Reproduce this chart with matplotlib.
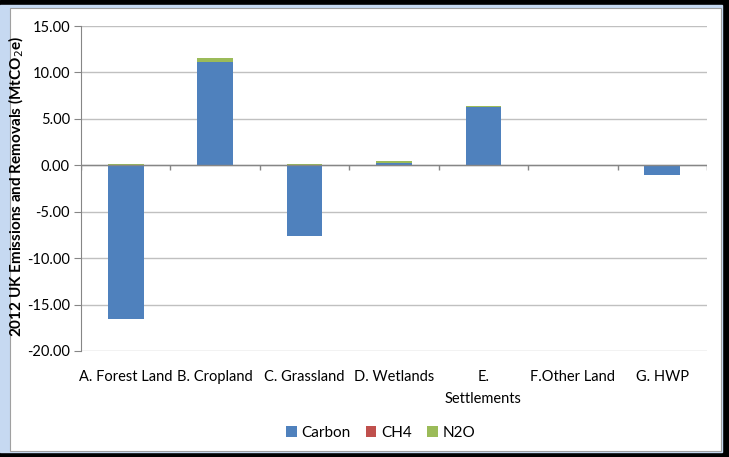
import matplotlib
matplotlib.use("Agg")
import matplotlib.pyplot as plt
from matplotlib.patches import Rectangle
import numpy as np

categories = ["A. Forest Land", "B. Cropland", "C. Grassland", "D. Wetlands",
              "E.\nSettlements", "F.Other Land", "G. HWP"]
carbon = [-16.60, 11.07, -7.61, 0.28, 6.25, 0.00, -1.07]
ch4 = [0.01, 0.00, 0.01, 0.01, 0.00, 0.00, 0.00]
n2o = [0.15, 0.53, 0.15, 0.14, 0.14, 0.00, 0.00]
series = [("Carbon", carbon, "#4F81BD"), ("CH4", ch4, "#C0504D"), ("N2O", n2o, "#9BBB59")]
yticks = [15, 10, 5, 0, -5, -10, -15, -20]

plt.rcParams['font.family'] = ['Lato', 'DejaVu Sans']

fig = plt.figure(figsize=(7.29, 4.57), dpi=100)
W, H = 729, 457
# frame decorations
fig.patches.append(Rectangle((0, 0), 1, 1, transform=fig.transFigure, color="black", zorder=-10))
fig.patches.append(Rectangle((0, 5 / H), 722 / W, 1 - 10 / H, transform=fig.transFigure,
                             color="#C6D9F1", zorder=-9))
fig.patches.append(Rectangle((10 / W, 6 / H), 711 / W, 1 - 14 / H, transform=fig.transFigure,
                             facecolor="white", edgecolor="#A0A0A0", lw=0.8, zorder=-8))

ax = fig.add_axes([81 / W, 1 - 351 / H, (707 - 81) / W, (351 - 26) / H])
ax.set_facecolor("none")
x = np.arange(len(categories))
pos_bottom = np.zeros(len(categories))
neg_bottom = np.zeros(len(categories))
for name, vals, col in series:
    v = np.array(vals, dtype=float)
    b = np.where(v >= 0, pos_bottom, neg_bottom)
    ax.bar(x, v, bottom=b, width=0.4, color=col, label=name, zorder=3)
    pos_bottom += np.where(v >= 0, v, 0)
    neg_bottom += np.where(v < 0, v, 0)

ax.set_xlim(-0.5, len(categories) - 0.5)
ax.set_ylim(-20, 15)
ax.set_yticks(yticks)
ax.set_yticklabels([f"{t:.2f}" for t in yticks])
ax.yaxis.grid(True, color="#C0C0C0", lw=1.0, zorder=0)
ax.axhline(0, color="#868686", lw=1.0, zorder=4)
# category boundary ticks at zero line
bounds = np.arange(len(categories) + 1) - 0.5
ax.vlines(bounds, -0.55, 0, color="#868686", lw=1.0, zorder=4)
ax.set_xticks(x)
ax.set_xticklabels(categories, va="top", linespacing=1.65)
ax.tick_params(axis="x", length=0, pad=14, labelsize=10.5, colors="black")
ax.tick_params(axis="y", length=5, direction="out", color="#868686", labelsize=10.5, pad=3)
for s in ["top", "right", "bottom"]:
    ax.spines[s].set_visible(False)
ax.spines["left"].set_color("#868686")

ax.set_ylabel("2012 UK Emissions and Removals (MtCO$_2$e)", fontsize=11, fontweight="bold")
ax.yaxis.set_label_coords(-0.088, 0.505)

leg = fig.legend(loc="center", bbox_to_anchor=(0.522, 1 - 433 / H), ncol=3, frameon=False,
                 handlelength=0.7, handleheight=0.7, handletextpad=0.3, columnspacing=1.0,
                 fontsize=11)

fig.savefig("out.png", dpi=100)
